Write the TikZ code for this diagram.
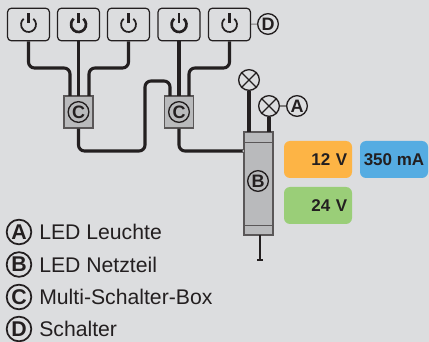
\documentclass[tikz,border=0pt]{standalone}
\usepackage{fontspec}
\setmainfont{Liberation Sans}
\definecolor{bgcol}{HTML}{DCDDDF}
\definecolor{inkcol}{HTML}{231F20}
\definecolor{boxcol}{HTML}{B9BABC}
\definecolor{orangecol}{HTML}{FDB445}
\definecolor{bluecol}{HTML}{55ACE2}
\definecolor{greencol}{HTML}{9ACE78}
\tikzset{
  switchbox/.style={draw=inkcol,line width=0.9pt,rounded corners=3pt,minimum width=31.5pt,minimum height=24.5pt,inner sep=0pt},
  multibox/.style={draw=inkcol!75,fill=boxcol,line width=0.9pt,minimum width=21.75pt,minimum height=24pt,inner sep=0pt},
  lamp/.style={circle,draw=inkcol,line width=1pt,minimum size=15.5pt,inner sep=0pt},
  letter/.style={circle,draw=inkcol,line width=1pt,minimum size=15.5pt,inner sep=0pt,text=inkcol,font=\fontsize{13.5}{14}\selectfont\bfseries},
  bigletter/.style={letter,line width=1.3pt,minimum size=18.5pt,font=\fontsize{16}{16}\selectfont\bfseries},
  wire/.style={draw=inkcol,line width=2.3pt,rounded corners=4.5pt},
  leader/.style={draw=inkcol!60,line width=0.8pt},
  valuebox/.style={rounded corners=4.5pt,minimum height=27.75pt,inner sep=0pt,text=inkcol,font=\fontsize{12.75}{13}\selectfont\bfseries},
  legendtext/.style={anchor=west,inner sep=0pt,text=inkcol,font=\fontsize{15.9}{17}\selectfont}
}
\begin{document}
\begin{tikzpicture}[x=0.75pt,y=-0.75pt]
    \useasboundingbox (0,0) rectangle (429,342);
    \fill [bgcol] (0,0) rectangle (429,342);
    % switches
    \foreach \n/\x/\w in {1/28.5/1.3,2/78.5/2.0,3/128.5/1.3,4/179/2.0,5/229.5/1.3} {
        \node [switchbox] (sw\n) at (\x,24.5) {};
        \draw [inkcol,line width=\w pt] (\x,24.5) ++(-50:7.5) arc (-50:230:7.5);
        \draw [inkcol,line width=2pt] (\x,13.5) -- (\x,23.5);
    }
    % boxes
    \node [multibox] (boxa) at (78.5,112) {};
    \node [multibox] (boxb) at (179,112) {};
    \node [letter] (ca) at (boxa) {C};
    \node [letter] (cb) at (boxb) {C};
    \node [multibox,minimum width=21.75pt,minimum height=77.25pt] (driver) at (258.5,183.5) {};
    \draw [inkcol!75,line width=0.7pt] (244,142) -- (273,142);
    \draw [inkcol!75,line width=0.7pt] (244,225) -- (273,225);
    \node [letter] (cc) at (258,181) {B};
    % lamps
    \node [lamp] (lampa) at (249,80) {};
    \node [lamp] (lampb) at (269,106) {};
    \draw [inkcol,line width=0.8pt] (lampa.45) -- (lampa.225);
    \draw [inkcol,line width=0.8pt] (lampa.135) -- (lampa.315);
    \draw [inkcol,line width=0.8pt] (lampb.45) -- (lampb.225);
    \draw [inkcol,line width=0.8pt] (lampb.135) -- (lampb.315);
    \node [letter] (la) at (297,106) {A};
    \node [letter] (ld) at (268,24) {D};
    \draw [leader] (lampb) -- (la);
    \draw [leader] (sw5) -- (ld);
    % wires
    \coordinate (ina) at (70,96);
    \coordinate (inb) at (89,96);
    \coordinate (inc) at (170,96);
    \coordinate (ind) at (189,96);
    \coordinate (lampin) at (249,132);
    \coordinate (lampinb) at (269,132);
    \coordinate (mains) at (260,260);
    \coordinate (feed) at (242,151);
    \draw [wire] (sw1.south) -- (28.5,68) -- (70,68) -- (ina);
    \draw [wire] (sw2.south) -- (78.5,96);
    \draw [wire] (sw3.south) -- (128.5,68) -- (89,68) -- (inb);
    \draw [wire] (sw4.south) -- (179,96);
    \draw [wire] (sw5.south) -- (229.5,68) -- (189,68) -- (ind);
    \draw [wire] (boxa.south) -- (78.5,151) -- (145,151) -- (145,81) -- (170,81) -- (inc);
    \draw [wire] (boxb.south) -- (179,151) -- (feed);
    \draw [wire] (lampa.south) -- (lampin);
    \draw [wire] (lampb.south) -- (lampinb);
    \draw [inkcol,line width=1.9pt] (260,235) -- (mains);
    \draw [inkcol,line width=0.9pt] (257,260) -- (263,260);
    \draw [inkcol!75,fill=boxcol,line width=0.5pt] (242,149.5) rectangle (244.5,152.5);
    % values
    \node [valuebox,fill=orangecol,minimum width=51pt,text width=44pt,align=right] (vala) at (318,159.5) {12 V};
    \node [valuebox,fill=bluecol,minimum width=51pt] (valb) at (394,159.5) {350 mA};
    \node [valuebox,fill=greencol,minimum width=51pt,text width=44pt,align=right] (valc) at (318,205.5) {24 V};
    % legend
    \foreach \n/\y/\t in {A/232/LED Leuchte,B/264.5/LED Netzteil,C/297/Multi-Schalter-Box,D/329/Schalter} {
        \node [bigletter] (leg\n) at (19,\y) {\n};
        \node [legendtext] (txt\n) at (39,\y) {\t};
    }
\end{tikzpicture}
\end{document}
